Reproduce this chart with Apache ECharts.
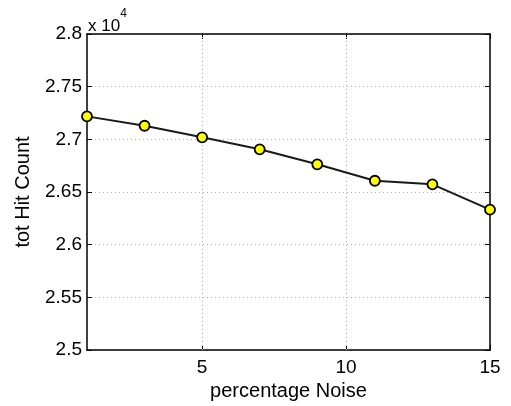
<!DOCTYPE html>
<html>
<head>
<meta charset="utf-8">
<script src="https://cdn.jsdelivr.net/npm/echarts@6/dist/echarts.min.js"></script>
<style>html,body{margin:0;padding:0;background:#fff;}#c{width:511px;height:406px;}</style>
</head>
<body>
<div id="c"></div>
<script>
const noise = [1, 3, 5, 7, 9, 11, 13, 15];
const hitCount = [27218, 27129, 27019, 26905, 26763, 26607, 26573, 26332];
const xTicks = [5, 10, 15];

const font = 'Liberation Sans, Arial, Helvetica, sans-serif';
const chart = echarts.init(document.getElementById('c'));
const grid = {left: 87, right: 21, top: 34, bottom: 56, containLabel: false, outerBoundsMode: 'none'};
const split = {show: true, lineStyle: {color: '#b0b0b0', type: [1, 3], width: 1}};
chart.setOption({
  animation: false,
  grid: grid,
  xAxis: [{
    type: 'value', min: 1, max: 15,
    name: 'percentage Noise', nameLocation: 'middle', nameGap: 27,
    nameTextStyle: {fontFamily: font, fontSize: 20, color: '#000'},
    axisLine: {show: true, onZero: false, lineStyle: {color: '#000', width: 1.5}},
    axisTick: {show: true, inside: true, length: 5, customValues: xTicks, lineStyle: {color: '#000'}},
    axisLabel: {customValues: xTicks, fontFamily: font, fontSize: 19, color: '#000', margin: 8},
    splitLine: {show: false}
  }, {
    type: 'value', min: 1, max: 15, position: 'top',
    axisLine: {show: true, onZero: false, lineStyle: {color: '#000', width: 1.5}},
    axisTick: {show: true, inside: true, length: 5, customValues: xTicks, lineStyle: {color: '#000'}},
    axisLabel: {show: false},
    splitLine: {show: false}
  }],
  yAxis: [{
    type: 'value', min: 25000, max: 28000, interval: 500,
    name: 'tot Hit Count', nameLocation: 'middle', nameGap: 54,
    nameTextStyle: {fontFamily: font, fontSize: 20, color: '#000'},
    axisLine: {show: true, onZero: false, lineStyle: {color: '#000', width: 1.5}},
    axisTick: {show: true, inside: true, length: 5, lineStyle: {color: '#000'}},
    axisLabel: {fontFamily: font, fontSize: 19, color: '#000', margin: 5,
      formatter: v => String(Math.round(v / 10) / 1000)},
    splitLine: split
  }, {
    type: 'value', min: 25000, max: 28000, interval: 500, position: 'right',
    axisLine: {show: true, onZero: false, lineStyle: {color: '#000', width: 1.5}},
    axisTick: {show: true, inside: true, length: 5, lineStyle: {color: '#000'}},
    axisLabel: {show: false},
    splitLine: {show: false}
  }],
  graphic: [{
    type: 'text', left: 88, top: 8,
    style: {
      text: '{a|x 10}{b|4}',
      rich: {
        a: {fontFamily: font, fontSize: 17, fill: '#000', verticalAlign: 'bottom', padding: [10, 0, 0, 0]},
        b: {fontFamily: font, fontSize: 12, fill: '#000', verticalAlign: 'top'}
      }
    }
  }],
  series: [{
    type: 'line',
    data: noise.map((x, i) => [x, hitCount[i]]),
    symbol: 'circle', symbolSize: 10,
    lineStyle: {color: '#1a1a1a', width: 2},
    itemStyle: {color: '#ffff00', borderColor: '#000', borderWidth: 1.8},
    markLine: {
      silent: true, symbol: 'none', label: {show: false},
      lineStyle: {color: '#b0b0b0', type: [1, 3], width: 1},
      data: [5, 10].map(v => ({xAxis: v}))
    },
    z: 5
  }]
});
</script>
</body>
</html>
